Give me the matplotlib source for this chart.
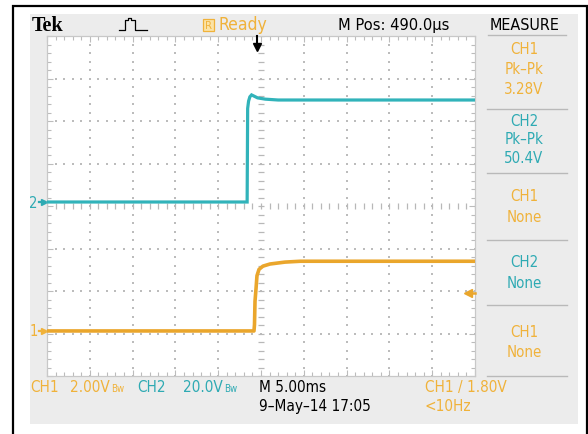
import numpy as np
import matplotlib
matplotlib.use("Agg")
import matplotlib.pyplot as plt
from matplotlib.transforms import blended_transform_factory
from matplotlib.patches import Rectangle

# ---------------- data ----------------
# CH2 (teal) trace: time in ms relative to screen centre, volts
ch2_t = [-25.0, -1.62, -1.56, -1.45, -1.30, -1.10, -0.80, -0.40, 0.5, 2.0, 25.0]
ch2_v = [0.0, 0.0, 44.0, 47.5, 49.5, 50.4, 49.8, 49.0, 48.4, 48.0, 48.0]
# CH1 (orange) trace
ch1_t = [-25.0, -0.82, -0.76, -0.70, -0.58, -0.47, -0.23, 0.23, 1.05, 2.8, 4.6, 25.0]
ch1_v = [0.0, 0.0, 0.3, 1.4, 2.0, 2.6, 2.9, 3.05, 3.15, 3.24, 3.28, 3.28]

ch1_scale = 2.0      # V/div
ch2_scale = 20.0     # V/div
ch1_offset = -2.94   # div (ground marker 1)
ch2_offset = 0.094   # div (ground marker 2)
time_per_div = 5.0   # ms/div
trig_level = 1.80    # V
trig_pos = -0.49     # ms

header_items = ["Tek", "Ready", "M Pos: 490.0\u00b5s", "MEASURE"]
measure_labels = [("CH1", "Pk\u2013Pk", "3.28V"), ("CH2", "Pk\u2013Pk", "50.4V"),
                  ("CH1", "None"), ("CH2", "None"), ("CH1", "None")]
measure_ch = ["CH1", "CH2", "CH1", "CH2", "CH1"]
footer_ch1 = ("CH1", "2.00V")
footer_ch2 = ("CH2", "20.0V")
footer_time = ["M 5.00ms", "9\u2013May\u201314 17:05"]
footer_trig = ["CH1 / 1.80V", "<10Hz"]

# ---------------- style ----------------
ORANGE = "#eaa62c"
ORANGE_TXT = "#f0b23a"
TEAL = "#31b3ba"
TEAL_TXT = "#2eaab3"
PANEL = "#ececec"
SEP = "#b9b9b9"
DOT = "#bcbcbc"
FONT = ["DejaVu Sans"]
STRETCH = "condensed"
FS = 11
chcol = {"CH1": ORANGE_TXT, "CH2": TEAL_TXT}

W, H = 588, 435
fig = plt.figure(figsize=(W / 100, H / 100), dpi=100)
bg = fig.add_axes([0, 0, 1, 1])
bg.set_xlim(0, W)
bg.set_ylim(H, 0)
bg.axis("off")


def label(x, y, s, color="black", size=FS, ha="left"):
    return bg.text(x, y, s, color=color, fontsize=size, family=FONT, fontstretch=STRETCH,
                   ha=ha, va="center")


def right_edge(t):
    r = fig.canvas.get_renderer()
    bb = t.get_window_extent(renderer=r)
    return bg.transData.inverted().transform((bb.x1, bb.y0))[0]


# outer frame and screen panel
bg.plot([13, 13, 587, 587], [H, 7, 7, H], color="black", lw=1.6, solid_joinstyle="miter")
bg.add_patch(Rectangle((30, 15), 548, 410, facecolor=PANEL, edgecolor="none"))

# ---------------- graticule ----------------
gx0, gx1, gy0, gy1 = 47, 475, 37, 377
ax = fig.add_axes([gx0 / W, (H - gy1) / H, (gx1 - gx0) / W, (gy1 - gy0) / H])
ax.set_facecolor("white")
ax.set_xlim(-5 * time_per_div, 5 * time_per_div)
ax.set_ylim(-4, 4)
for s in ax.spines.values():
    s.set_color("#c8c8c8")
    s.set_linewidth(0.9)
ax.set_xticks(np.arange(-25, 25.1, 5))
ax.set_xticks(np.arange(-25, 25.1, 1), minor=True)
ax.set_yticks(np.arange(-4, 4.1, 1))
ax.set_yticks(np.arange(-4, 4.01, 0.2), minor=True)
ax.tick_params(which="both", direction="in", top=True, right=True,
               labelbottom=False, labelleft=False, color="#bcbcbc", width=0.8)
ax.tick_params(which="major", length=4)
ax.tick_params(which="minor", length=3)

# dotted grid
ydots = np.arange(-4, 4.01, 0.2)
xdots = np.arange(-25, 25.01, 1.0)
for xv in np.arange(-20, 20.1, 5):
    if abs(xv) < 1e-9:
        continue
    ax.scatter(np.full_like(ydots, xv), ydots, s=1.3, marker="s", color=DOT, lw=0, zorder=1)
for yv in np.arange(-3, 3.1, 1):
    if abs(yv) < 1e-9:
        continue
    ax.scatter(xdots, np.full_like(xdots, yv), s=1.3, marker="s", color=DOT, lw=0, zorder=1)
# centre tick lines
ax.hlines(ydots, -0.4, 0.4, color="#b8b8b8", lw=0.9, zorder=1)
ax.vlines(xdots, -0.07, 0.07, color="#b8b8b8", lw=0.9, zorder=1)

# traces
ax.plot(ch2_t, ch2_offset + np.array(ch2_v) / ch2_scale, color=TEAL, lw=2.3, zorder=3,
        solid_joinstyle="miter")
ax.plot(ch1_t, ch1_offset + np.array(ch1_v) / ch1_scale, color=ORANGE, lw=2.6, zorder=3,
        solid_joinstyle="round")

# ground markers
bt = blended_transform_factory(ax.transAxes, ax.transData)
for lab, off, col in [("2", ch2_offset, TEAL_TXT), ("1", ch1_offset, ORANGE_TXT)]:
    ax.text(-0.032, off, lab, transform=bt, color=col, fontsize=10.5, family=FONT,
            fontstretch=STRETCH, ha="center", va="center", clip_on=False)
    ax.plot([-0.018, -0.004], [off, off], transform=bt, color=col, lw=1.6, clip_on=False)
    ax.plot([-0.006], [off], transform=bt, marker=">", ms=4.5, color=col, clip_on=False)

# trigger level marker (right side)
tl = ch1_offset + trig_level / ch1_scale
ax.plot([0.983, 1.0], [tl, tl], transform=bt, color=ORANGE, lw=1.8, clip_on=False, zorder=4)
ax.plot([0.984], [tl], transform=bt, marker="<", ms=6, color=ORANGE, clip_on=False, zorder=4)

# trigger position marker (top)
bt2 = blended_transform_factory(ax.transData, ax.transAxes)
ax.plot([trig_pos, trig_pos], [1.0, 0.97], transform=bt2, color="black", lw=1.5, clip_on=False, zorder=4)
ax.plot([trig_pos], [0.968], transform=bt2, marker="v", ms=6, color="black", clip_on=False, zorder=4)

# ---------------- header ----------------
bg.text(32, 26, header_items[0], family=["Liberation Serif", "DejaVu Serif"], fontweight="bold",
        fontsize=14.5, va="center", ha="left", color="black")
# pulse icon
bg.plot([119, 125, 125, 128, 128, 131, 131, 135, 135, 147],
        [31, 31, 21, 21, 19, 19, 21, 21, 31, 31], color="black", lw=0.9)
bg.add_patch(Rectangle((203, 19.5), 11, 12, facecolor="#fbe3a6", edgecolor=ORANGE_TXT, lw=0.9))
label(208.5, 26, "R", ORANGE_TXT, size=8, ha="center")
label(218, 25.5, header_items[1], ORANGE_TXT, size=12.5)
label(338, 25.5, header_items[2], size=11.8)
label(525, 25, header_items[3], size=11.5, ha="center")
bg.plot([488, 566], [36, 36], color=SEP, lw=1.0)

# ---------------- measure panel ----------------
block_y = [(49, 69, 89), (121, 140, 159), (197, 218), (263, 284), (333, 353)]
for labels, ys, ch in zip(measure_labels, block_y, measure_ch):
    for t, y in zip(labels, ys):
        label(524, y, t, chcol[ch], size=10.8, ha="center")
for y in [110, 174, 241, 306, 377]:
    bg.plot([487, 567], [y, y], color=SEP, lw=1.0)

# ---------------- footer ----------------
r1, r2 = 388, 407
label(30, r1, footer_ch1[0], ORANGE_TXT)
t = label(70, r1, footer_ch1[1], ORANGE_TXT)
label(right_edge(t) + 1, r1 + 1.5, "Bw", ORANGE_TXT, size=7)
label(137, r1, footer_ch2[0], TEAL_TXT)
t = label(183, r1, footer_ch2[1], TEAL_TXT)
label(right_edge(t) + 1, r1 + 1.5, "Bw", TEAL_TXT, size=7)
label(259, r1, footer_time[0])
label(259, r2, footer_time[1])
label(425, r1, footer_trig[0], ORANGE_TXT)
label(425, r2, footer_trig[1], ORANGE_TXT)

fig.savefig("out.png", dpi=100)
